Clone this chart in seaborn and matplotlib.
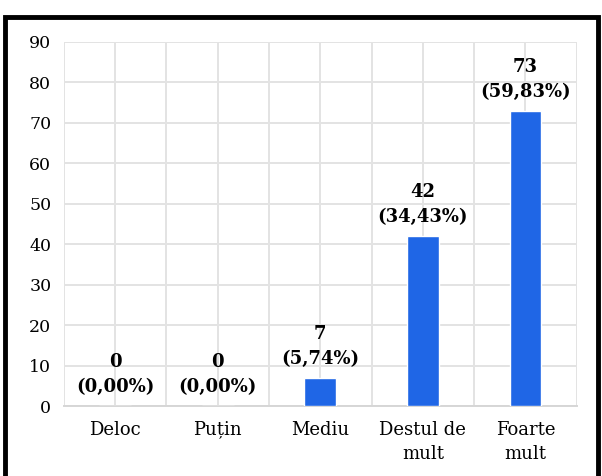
import numpy as np
import pandas as pd
import seaborn as sns
import matplotlib.pyplot as plt
from matplotlib.patches import Rectangle
from matplotlib.transforms import ScaledTranslation

categories = ['Deloc', 'Puțin', 'Mediu', 'Destul de\nmult', 'Foarte\nmult']
counts = [0, 0, 7, 42, 73]
percents = ['0,00%', '0,00%', '5,74%', '34,43%', '59,83%']

sns.set_theme(style='white')
plt.rcParams['font.family'] = ['DejaVu Serif', 'Liberation Serif']

data = pd.DataFrame({'Categorie': categories, 'Numar': counts})

fig = plt.figure(figsize=(6.02, 4.76), dpi=100)
ax = fig.add_axes([0.106, 0.147, 0.852, 0.765])

sns.barplot(x='Categorie', y='Numar', data=data, color='#1F66E6',
            saturation=1, width=0.31, ax=ax, zorder=3)

for i, (c, p) in enumerate(zip(counts, percents)):
    ax.annotate(f'{c}\n({p})', (i, c), xytext=(0, 7),
                textcoords='offset points', ha='center', va='bottom',
                fontsize=13, fontweight='bold', linespacing=1.5,
                color='black')

ax.set_ylim(0, 90)
ax.set_xlim(-0.5, 4.5)
ax.set_yticks(np.arange(0, 91, 10))
ax.set_xticks(np.arange(-0.5, 4.6, 1), minor=True)
ax.grid(True, which='both', color='#E3E3E3', linewidth=1.4, zorder=0)
ax.set_axisbelow(True)
for side in ['left', 'top', 'right']:
    ax.spines[side].set_visible(False)
ax.spines['bottom'].set_color('#D6D6D6')
ax.spines['bottom'].set_linewidth(1.4)
ax.tick_params(axis='both', which='both', length=0, labelsize=12.5,
               colors='black')
ax.tick_params(axis='y', pad=9)
ax.tick_params(axis='x', pad=11, labelsize=13)
ax.set_xlabel('')
ax.set_ylabel('')
for lbl in ax.get_xticklabels():
    lbl.set_linespacing(1.4)

# the comma under "ț" pushes that label down a bit, nudge it back up
putin = ax.get_xticklabels()[1]
putin.set_transform(putin.get_transform() +
                    ScaledTranslation(0, 1.5 / 100, fig.dpi_scale_trans))

# black frame around the figure
fig.patches.append(Rectangle((5 / 602, -0.05), 593 / 602, 1.05 - 17 / 476,
                             transform=fig.transFigure, fill=False,
                             edgecolor='black', linewidth=3.5))

plt.savefig('out.png', dpi=100)
